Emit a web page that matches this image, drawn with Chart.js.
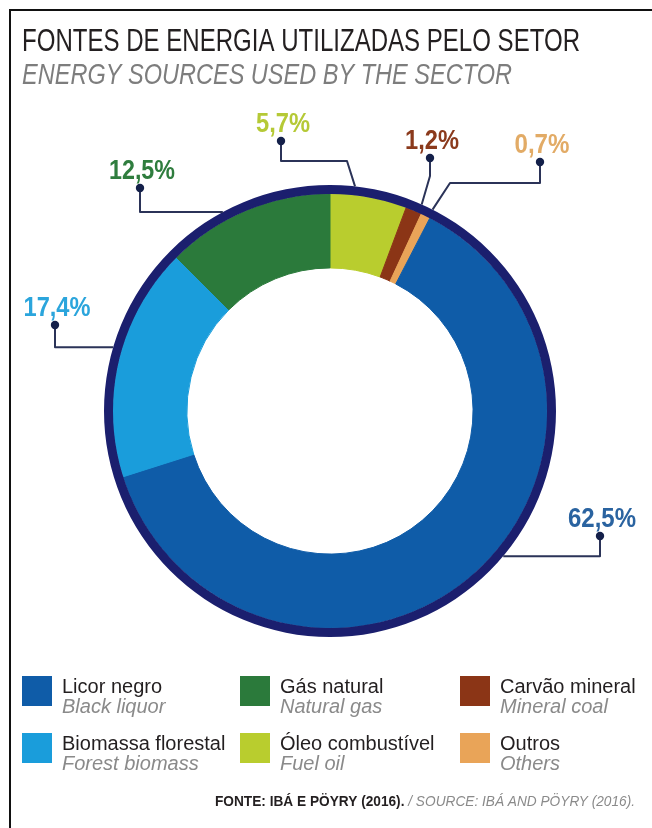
<!DOCTYPE html>
<html>
<head>
<meta charset="utf-8">
<script src="https://cdn.jsdelivr.net/npm/chart.js@4.4.1/dist/chart.umd.min.js"></script>
<style>
html,body{margin:0;padding:0;background:#fff;}
#wrap{position:relative;width:652px;height:828px;overflow:hidden;background:#fff;}
#frame{position:absolute;left:9px;top:9px;width:660px;height:840px;border-left:2px solid #111;border-top:2px solid #111;pointer-events:none;}
canvas{position:absolute;left:0;top:0;}
</style>
</head>
<body>
<div id="wrap"><canvas id="c" width="652" height="828"></canvas><div id="frame"></div></div>
<script>
// ---- data ----
const categories = ['Óleo combustível', 'Carvão mineral', 'Outros', 'Licor negro', 'Biomassa florestal', 'Gás natural'];
const categoriesEn = ['Fuel oil', 'Mineral coal', 'Others', 'Black liquor', 'Forest biomass', 'Natural gas'];
const shares = [5.7, 1.2, 0.7, 62.5, 17.4, 12.5];
const legendOrder = [3, 5, 1, 4, 0, 2];
const titlePt = 'FONTES DE ENERGIA UTILIZADAS PELO SETOR';
const titleEn = 'ENERGY SOURCES USED BY THE SECTOR';
const sourcePt = 'FONTE: IBÁ E PÖYRY (2016).';
const sourceEn = ' / SOURCE: IBÁ AND PÖYRY (2016).';

// ---- styles ----
const sliceColors = ['#b9cd2e', '#8b3516', '#e9a458', '#0f5ca8', '#1a9ddb', '#2b7a3b'];
const labelColors = ['#b5c936', '#8b3a1c', '#e2ab66', '#2a63a0', '#2ba5dc', '#2f7d3e'];
const ringColor = '#1b1f6e';
const lineColor = '#2b3358';
const dotColor = '#14204a';
const FONT = '"Liberation Sans", Arial, sans-serif';

// callout layout: anchor fraction along slice, dot position, route, label width
const callouts = [
  {i: 3, t: 0.456, dot: [600, 536], route: 'h', w: 68},
  {i: 4, t: 0.543, dot: [55, 325], route: 'h', w: 67},
  {i: 5, t: 0.371, dot: [140, 188], route: 'h', w: 66},
  {i: 0, t: 0.31, dot: [281, 141], via: [[281, 161], [347, 161]], w: 54},
  {i: 1, t: 0.79, dot: [430, 158], via: [[430, 176]], w: 54},
  {i: 2, t: 0.85, dot: [540, 162], via: [[540, 183], [450, 183]], w: 55}
];

const fmt = v => v.toFixed(1).replace('.', ',') + '%';

function fitText(ctx, str, x, y, font, color, width, align) {
  ctx.save();
  ctx.font = font;
  const w = ctx.measureText(str).width;
  const sx = width ? width / w : 1;
  ctx.translate(x, y);
  ctx.scale(sx, 1);
  ctx.textAlign = align || 'left';
  ctx.textBaseline = 'alphabetic';
  ctx.fillStyle = color;
  ctx.fillText(str, 0, 0);
  ctx.restore();
}

const decor = {
  id: 'decor',
  afterDraw(chart) {
    const ctx = chart.ctx;
    // titles
    fitText(ctx, titlePt, 22, 51, '400 31px ' + FONT, '#231f20', 558, 'left');
    fitText(ctx, titleEn, 22, 84, 'italic 400 29px ' + FONT, '#7d7d7d', 490, 'left');

    // callouts
    const ringArc = chart.getDatasetMeta(0).data[0];
    const R = ringArc.outerRadius;
    const arcs = chart.getDatasetMeta(1).data;
    callouts.forEach(c => {
      const a = arcs[c.i];
      const ang = a.startAngle + c.t * (a.endAngle - a.startAngle);
      const ax = a.x + R * Math.cos(ang);
      const ay = a.y + R * Math.sin(ang);
      const pts = [c.dot];
      if (c.route === 'h') pts.push([c.dot[0], ay]);
      else c.via.forEach(p => pts.push(p));
      pts.push([ax, ay]);
      ctx.save();
      ctx.strokeStyle = lineColor;
      ctx.lineWidth = 2;
      ctx.lineJoin = 'round';
      ctx.beginPath();
      ctx.moveTo(pts[0][0], pts[0][1]);
      for (let k = 1; k < pts.length; k++) ctx.lineTo(pts[k][0], pts[k][1]);
      ctx.stroke();
      ctx.fillStyle = dotColor;
      ctx.beginPath();
      ctx.arc(c.dot[0], c.dot[1], 4.2, 0, Math.PI * 2);
      ctx.fill();
      ctx.restore();
      fitText(ctx, fmt(shares[c.i]), c.dot[0] + 2, c.dot[1] - 9, 'bold 28px ' + FONT, labelColors[c.i], c.w, 'center');
    });

    // legend
    const colX = [22, 240, 460];
    const rowY = [676, 733];
    legendOrder.forEach((idx, k) => {
      const col = k % 3, row = Math.floor(k / 3);
      const x = colX[col], y = rowY[row];
      ctx.fillStyle = sliceColors[idx];
      ctx.fillRect(x, y, 30, 30);
      fitText(ctx, categories[idx], x + 40, y + 17, '400 20px ' + FONT, '#231f20', 0, 'left');
      fitText(ctx, categoriesEn[idx], x + 40, y + 37, 'italic 400 20px ' + FONT, '#8a8a8a', 0, 'left');
    });

    // source
    ctx.save();
    ctx.font = 'bold 14px ' + FONT;
    const w1 = ctx.measureText(sourcePt).width;
    ctx.font = 'italic 14px ' + FONT;
    const w2 = ctx.measureText(sourceEn).width;
    const sx = 420 / (w1 + w2);
    ctx.translate(215, 806);
    ctx.scale(sx, 1);
    ctx.textAlign = 'left';
    ctx.font = 'bold 14px ' + FONT;
    ctx.fillStyle = '#231f20';
    ctx.fillText(sourcePt, 0, 0);
    ctx.font = 'italic 14px ' + FONT;
    ctx.fillStyle = '#8a8a8a';
    ctx.fillText(sourceEn, w1, 0);
    ctx.restore();
  }
};

new Chart(document.getElementById('c'), {
  type: 'doughnut',
  data: {
    labels: categories,
    datasets: [
      {label: 'contorno', data: [100], backgroundColor: ringColor, borderWidth: 0, weight: 9},
      {label: 'Participação (%)', data: shares, backgroundColor: sliceColors, borderColor: sliceColors, borderWidth: 1, weight: 74}
    ]
  },
  options: {
    responsive: false,
    maintainAspectRatio: false,
    animation: false,
    events: [],
    cutout: '63.3%',
    rotation: 0,
    layout: {padding: {left: 104, right: 96, top: 185, bottom: 191}},
    plugins: {legend: {display: false}, tooltip: {enabled: false}, title: {display: false}}
  },
  plugins: [decor]
});
</script>
</body>
</html>
